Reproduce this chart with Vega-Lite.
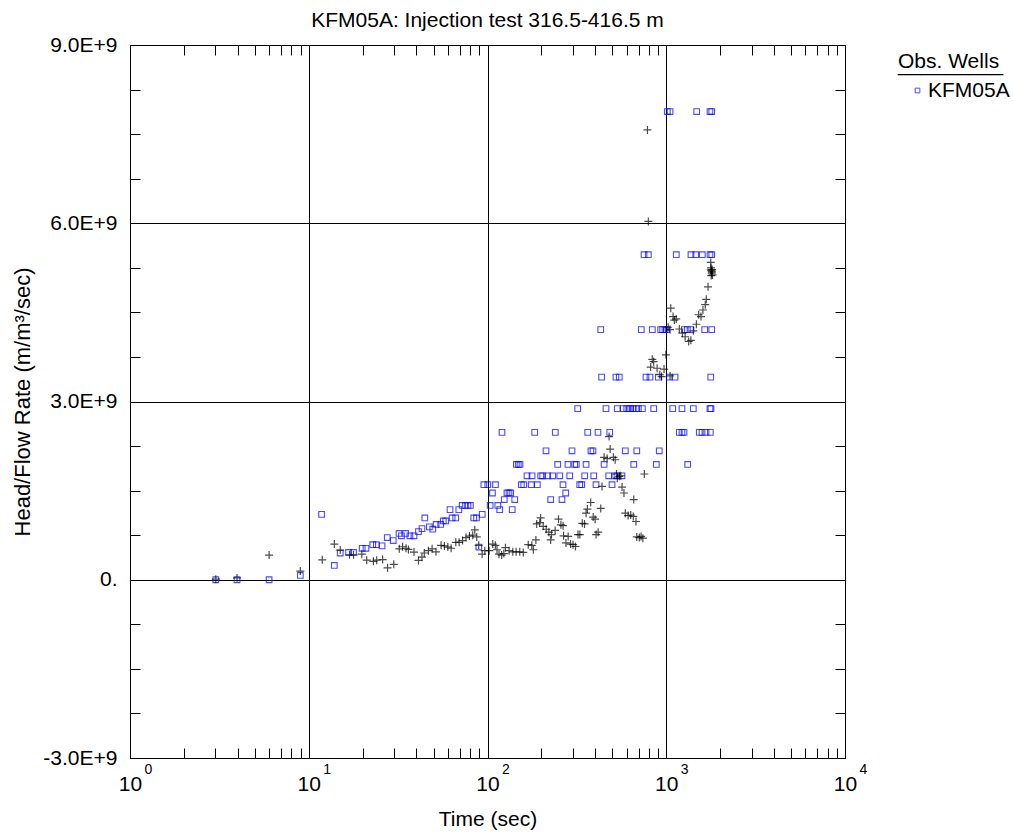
{
  "$schema": "https://vega.github.io/schema/vega-lite/v6.json",
  "width": 715,
  "height": 713,
  "autosize": "none",
  "padding": {"left": 130, "top": 45, "right": 168, "bottom": 75},
  "background": "white",
  "title": {"text": "KFM05A: Injection test 316.5-416.5 m", "fontSize": 21, "fontWeight": "normal", "font": "Liberation Sans", "color": "black", "offset": 3},
  "config": {
    "font": "Liberation Sans",
    "view": {"stroke": "black", "strokeWidth": 1},
    "axis": {"labelColor": "black", "titleColor": "black", "labelFont": "Liberation Sans", "titleFont": "Liberation Sans", "titleFontWeight": "normal", "domainColor": "black", "tickColor": "black", "gridColor": "black", "gridOpacity": 1, "gridWidth": 1}
  },
  "data": {"values": [
    {"t": 3.02, "v": 0, "s": "KFM05A"}, {"t": 3.97, "v": 0, "s": "KFM05A"}, {"t": 6.0, "v": 0, "s": "KFM05A"}, {"t": 8.97, "v": 0.072e9, "s": "KFM05A"},
    {"t": 11.8, "v": 1.10e9, "s": "KFM05A"}, {"t": 13.9, "v": 0.24e9, "s": "KFM05A"}, {"t": 15.0, "v": 0.45e9, "s": "KFM05A"}, {"t": 16.7, "v": 0.46e9, "s": "KFM05A"}, {"t": 17.8, "v": 0.46e9, "s": "KFM05A"},
    {"t": 19.9, "v": 0.53e9, "s": "KFM05A"}, {"t": 20.9, "v": 0.53e9, "s": "KFM05A"}, {"t": 22.8, "v": 0.59e9, "s": "KFM05A"}, {"t": 23.9, "v": 0.59e9, "s": "KFM05A"}, {"t": 25.7, "v": 0.57e9, "s": "KFM05A"},
    {"t": 27.5, "v": 0.71e9, "s": "KFM05A"}, {"t": 29.7, "v": 0.66e9, "s": "KFM05A"}, {"t": 32.0, "v": 0.78e9, "s": "KFM05A"}, {"t": 33.0, "v": 0.74e9, "s": "KFM05A"}, {"t": 34.8, "v": 0.78e9, "s": "KFM05A"},
    {"t": 36.8, "v": 0.74e9, "s": "KFM05A"}, {"t": 38.8, "v": 0.74e9, "s": "KFM05A"}, {"t": 41.1, "v": 0.81e9, "s": "KFM05A"}, {"t": 43.0, "v": 0.86e9, "s": "KFM05A"}, {"t": 44.6, "v": 1.04e9, "s": "KFM05A"},
    {"t": 47.3, "v": 0.89e9, "s": "KFM05A"}, {"t": 49.4, "v": 0.85e9, "s": "KFM05A"}, {"t": 51.6, "v": 0.93e9, "s": "KFM05A"}, {"t": 54.7, "v": 0.93e9, "s": "KFM05A"}, {"t": 56.6, "v": 0.99e9, "s": "KFM05A"},
    {"t": 58.4, "v": 0.99e9, "s": "KFM05A"}, {"t": 61.7, "v": 1.18e9, "s": "KFM05A"}, {"t": 63.4, "v": 1.04e9, "s": "KFM05A"}, {"t": 66.4, "v": 1.04e9, "s": "KFM05A"}, {"t": 69.1, "v": 1.18e9, "s": "KFM05A"},
    {"t": 72.2, "v": 1.25e9, "s": "KFM05A"}, {"t": 75.3, "v": 1.25e9, "s": "KFM05A"}, {"t": 77.7, "v": 1.25e9, "s": "KFM05A"}, {"t": 80.2, "v": 1.25e9, "s": "KFM05A"}, {"t": 83.8, "v": 1.04e9, "s": "KFM05A"},
    {"t": 86.8, "v": 1.04e9, "s": "KFM05A"}, {"t": 89.4, "v": 0.55e9, "s": "KFM05A"}, {"t": 93.4, "v": 1.10e9, "s": "KFM05A"},
    {"t": 103.5, "v": 1.25e9, "s": "KFM05A"}, {"t": 114.2, "v": 1.25e9, "s": "KFM05A"}, {"t": 117, "v": 1.18e9, "s": "KFM05A"}, {"t": 137.5, "v": 1.18e9, "s": "KFM05A"},
    {"t": 124.1, "v": 1.35e9, "s": "KFM05A"}, {"t": 142, "v": 1.35e9, "s": "KFM05A"}, {"t": 225.7, "v": 1.35e9, "s": "KFM05A"}, {"t": 261, "v": 1.35e9, "s": "KFM05A"},
    {"t": 106.6, "v": 1.46e9, "s": "KFM05A"}, {"t": 128.5, "v": 1.46e9, "s": "KFM05A"}, {"t": 131.9, "v": 1.46e9, "s": "KFM05A"}, {"t": 134.8, "v": 1.46e9, "s": "KFM05A"}, {"t": 273.8, "v": 1.46e9, "s": "KFM05A"},
    {"t": 95.4, "v": 1.60e9, "s": "KFM05A"}, {"t": 100.4, "v": 1.60e9, "s": "KFM05A"}, {"t": 110.8, "v": 1.60e9, "s": "KFM05A"}, {"t": 154.6, "v": 1.60e9, "s": "KFM05A"}, {"t": 159.5, "v": 1.60e9, "s": "KFM05A"},
    {"t": 175.8, "v": 1.60e9, "s": "KFM05A"}, {"t": 190, "v": 1.60e9, "s": "KFM05A"}, {"t": 264.5, "v": 1.60e9, "s": "KFM05A"}, {"t": 328, "v": 1.60e9, "s": "KFM05A"}, {"t": 336.6, "v": 1.60e9, "s": "KFM05A"},
    {"t": 404.7, "v": 1.60e9, "s": "KFM05A"}, {"t": 497.4, "v": 1.60e9, "s": "KFM05A"},
    {"t": 166.3, "v": 1.75e9, "s": "KFM05A"}, {"t": 177.5, "v": 1.75e9, "s": "KFM05A"}, {"t": 198.5, "v": 1.75e9, "s": "KFM05A"}, {"t": 203.6, "v": 1.75e9, "s": "KFM05A"}, {"t": 217, "v": 1.75e9, "s": "KFM05A"},
    {"t": 231.5, "v": 1.75e9, "s": "KFM05A"}, {"t": 253.6, "v": 1.75e9, "s": "KFM05A"}, {"t": 288.4, "v": 1.75e9, "s": "KFM05A"}, {"t": 349.8, "v": 1.75e9, "s": "KFM05A"}, {"t": 392.9, "v": 1.75e9, "s": "KFM05A"},
    {"t": 476.6, "v": 1.75e9, "s": "KFM05A"}, {"t": 515, "v": 1.75e9, "s": "KFM05A"}, {"t": 530, "v": 1.75e9, "s": "KFM05A"}, {"t": 565.5, "v": 1.75e9, "s": "KFM05A"},
    {"t": 145, "v": 1.94e9, "s": "KFM05A"}, {"t": 148.7, "v": 1.94e9, "s": "KFM05A"}, {"t": 152, "v": 1.94e9, "s": "KFM05A"}, {"t": 247, "v": 1.94e9, "s": "KFM05A"}, {"t": 282, "v": 1.94e9, "s": "KFM05A"},
    {"t": 307.5, "v": 1.94e9, "s": "KFM05A"}, {"t": 314, "v": 1.94e9, "s": "KFM05A"}, {"t": 356, "v": 1.94e9, "s": "KFM05A"}, {"t": 449, "v": 1.94e9, "s": "KFM05A"}, {"t": 658, "v": 1.94e9, "s": "KFM05A"},
    {"t": 880, "v": 1.94e9, "s": "KFM05A"}, {"t": 1318, "v": 1.94e9, "s": "KFM05A"},
    {"t": 212.5, "v": 2.17e9, "s": "KFM05A"}, {"t": 297, "v": 2.17e9, "s": "KFM05A"}, {"t": 379, "v": 2.17e9, "s": "KFM05A"}, {"t": 389, "v": 2.17e9, "s": "KFM05A"}, {"t": 590, "v": 2.17e9, "s": "KFM05A"},
    {"t": 684, "v": 2.17e9, "s": "KFM05A"}, {"t": 914, "v": 2.17e9, "s": "KFM05A"},
    {"t": 120.5, "v": 2.48e9, "s": "KFM05A"}, {"t": 183.7, "v": 2.48e9, "s": "KFM05A"}, {"t": 239.5, "v": 2.48e9, "s": "KFM05A"}, {"t": 363.6, "v": 2.48e9, "s": "KFM05A"}, {"t": 415, "v": 2.48e9, "s": "KFM05A"},
    {"t": 483, "v": 2.48e9, "s": "KFM05A"}, {"t": 1183, "v": 2.48e9, "s": "KFM05A"}, {"t": 1225, "v": 2.48e9, "s": "KFM05A"}, {"t": 1257, "v": 2.48e9, "s": "KFM05A"}, {"t": 1531, "v": 2.48e9, "s": "KFM05A"},
    {"t": 1585, "v": 2.48e9, "s": "KFM05A"}, {"t": 1668, "v": 2.48e9, "s": "KFM05A"}, {"t": 1764, "v": 2.48e9, "s": "KFM05A"},
    {"t": 319.6, "v": 2.88e9, "s": "KFM05A"}, {"t": 460, "v": 2.88e9, "s": "KFM05A"}, {"t": 532, "v": 2.88e9, "s": "KFM05A"}, {"t": 575, "v": 2.88e9, "s": "KFM05A"}, {"t": 601, "v": 2.88e9, "s": "KFM05A"},
    {"t": 619, "v": 2.88e9, "s": "KFM05A"}, {"t": 633, "v": 2.88e9, "s": "KFM05A"}, {"t": 654, "v": 2.88e9, "s": "KFM05A"}, {"t": 677, "v": 2.88e9, "s": "KFM05A"}, {"t": 698, "v": 2.88e9, "s": "KFM05A"},
    {"t": 735, "v": 2.88e9, "s": "KFM05A"}, {"t": 851, "v": 2.88e9, "s": "KFM05A"}, {"t": 1087, "v": 2.88e9, "s": "KFM05A"}, {"t": 1225, "v": 2.88e9, "s": "KFM05A"}, {"t": 1417, "v": 2.88e9, "s": "KFM05A"},
    {"t": 1756, "v": 2.88e9, "s": "KFM05A"}, {"t": 1779, "v": 2.88e9, "s": "KFM05A"},
    {"t": 435, "v": 3.41e9, "s": "KFM05A"}, {"t": 523, "v": 3.41e9, "s": "KFM05A"}, {"t": 546, "v": 3.41e9, "s": "KFM05A"}, {"t": 770, "v": 3.41e9, "s": "KFM05A"}, {"t": 811, "v": 3.41e9, "s": "KFM05A"},
    {"t": 903, "v": 3.41e9, "s": "KFM05A"}, {"t": 1041, "v": 3.41e9, "s": "KFM05A"}, {"t": 1120, "v": 3.41e9, "s": "KFM05A"}, {"t": 1774, "v": 3.41e9, "s": "KFM05A"},
    {"t": 430, "v": 4.21e9, "s": "KFM05A"}, {"t": 725, "v": 4.21e9, "s": "KFM05A"}, {"t": 836, "v": 4.21e9, "s": "KFM05A"}, {"t": 931, "v": 4.21e9, "s": "KFM05A"}, {"t": 955, "v": 4.21e9, "s": "KFM05A"},
    {"t": 984, "v": 4.21e9, "s": "KFM05A"}, {"t": 1006, "v": 4.21e9, "s": "KFM05A"}, {"t": 1262, "v": 4.21e9, "s": "KFM05A"}, {"t": 1312, "v": 4.21e9, "s": "KFM05A"}, {"t": 1375, "v": 4.21e9, "s": "KFM05A"},
    {"t": 1641, "v": 4.21e9, "s": "KFM05A"}, {"t": 1796, "v": 4.21e9, "s": "KFM05A"},
    {"t": 751, "v": 5.47e9, "s": "KFM05A"}, {"t": 794, "v": 5.47e9, "s": "KFM05A"}, {"t": 1138, "v": 5.47e9, "s": "KFM05A"}, {"t": 1375, "v": 5.47e9, "s": "KFM05A"}, {"t": 1462, "v": 5.47e9, "s": "KFM05A"},
    {"t": 1591, "v": 5.47e9, "s": "KFM05A"}, {"t": 1757, "v": 5.47e9, "s": "KFM05A"}, {"t": 1796, "v": 5.47e9, "s": "KFM05A"},
    {"t": 1014, "v": 7.88e9, "s": "KFM05A"}, {"t": 1050, "v": 7.88e9, "s": "KFM05A"}, {"t": 1480, "v": 7.88e9, "s": "KFM05A"}, {"t": 1757, "v": 7.88e9, "s": "KFM05A"}, {"t": 1796, "v": 7.88e9, "s": "KFM05A"},

    {"t": 3.02, "v": 0.01e9, "s": "calc"}, {"t": 3.97, "v": 0.03e9, "s": "calc"}, {"t": 6.0, "v": 0.415e9, "s": "calc"}, {"t": 8.97, "v": 0.146e9, "s": "calc"}, {"t": 11.9, "v": 0.336e9, "s": "calc"},
    {"t": 13.9, "v": 0.60e9, "s": "calc"}, {"t": 15.0, "v": 0.50e9, "s": "calc"}, {"t": 16.9, "v": 0.42e9, "s": "calc"}, {"t": 17.8, "v": 0.42e9, "s": "calc"}, {"t": 19.8, "v": 0.43e9, "s": "calc"},
    {"t": 21.1, "v": 0.33e9, "s": "calc"}, {"t": 23.0, "v": 0.31e9, "s": "calc"}, {"t": 24.0, "v": 0.33e9, "s": "calc"}, {"t": 25.9, "v": 0.34e9, "s": "calc"}, {"t": 27.6, "v": 0.20e9, "s": "calc"},
    {"t": 29.9, "v": 0.26e9, "s": "calc"}, {"t": 32.1, "v": 0.52e9, "s": "calc"}, {"t": 33.5, "v": 0.555e9, "s": "calc"}, {"t": 35.0, "v": 0.53e9, "s": "calc"}, {"t": 36.1, "v": 0.51e9, "s": "calc"},
    {"t": 38.8, "v": 0.466e9, "s": "calc"}, {"t": 41.1, "v": 0.325e9, "s": "calc"}, {"t": 43.0, "v": 0.38e9, "s": "calc"}, {"t": 44.3, "v": 0.45e9, "s": "calc"}, {"t": 46.7, "v": 0.49e9, "s": "calc"},
    {"t": 49.0, "v": 0.52e9, "s": "calc"}, {"t": 51.5, "v": 0.47e9, "s": "calc"}, {"t": 55.0, "v": 0.58e9, "s": "calc"}, {"t": 57.4, "v": 0.57e9, "s": "calc"}, {"t": 60.0, "v": 0.55e9, "s": "calc"},
    {"t": 62.6, "v": 0.53e9, "s": "calc"}, {"t": 66.5, "v": 0.63e9, "s": "calc"}, {"t": 69.4, "v": 0.63e9, "s": "calc"}, {"t": 72.5, "v": 0.66e9, "s": "calc"}, {"t": 75.8, "v": 0.71e9, "s": "calc"},
    {"t": 79.2, "v": 0.735e9, "s": "calc"}, {"t": 82.7, "v": 0.75e9, "s": "calc"}, {"t": 84.9, "v": 0.84e9, "s": "calc"}, {"t": 87.1, "v": 0.72e9, "s": "calc"}, {"t": 89.3, "v": 0.58e9, "s": "calc"},
    {"t": 93.3, "v": 0.43e9, "s": "calc"}, {"t": 96.6, "v": 0.49e9, "s": "calc"}, {"t": 102.2, "v": 0.49e9, "s": "calc"}, {"t": 107, "v": 0.60e9, "s": "calc"}, {"t": 110.6, "v": 0.58e9, "s": "calc"},
    {"t": 113, "v": 0.505e9, "s": "calc"}, {"t": 116, "v": 0.43e9, "s": "calc"}, {"t": 120, "v": 0.415e9, "s": "calc"}, {"t": 123.4, "v": 0.44e9, "s": "calc"}, {"t": 126, "v": 0.54e9, "s": "calc"},
    {"t": 132, "v": 0.49e9, "s": "calc"}, {"t": 138.5, "v": 0.47e9, "s": "calc"}, {"t": 144.5, "v": 0.47e9, "s": "calc"}, {"t": 151.5, "v": 0.47e9, "s": "calc"}, {"t": 158.5, "v": 0.46e9, "s": "calc"},
    {"t": 169, "v": 0.59e9, "s": "calc"}, {"t": 177, "v": 0.58e9, "s": "calc"}, {"t": 180.5, "v": 0.505e9, "s": "calc"}, {"t": 186.5, "v": 0.67e9, "s": "calc"}, {"t": 188.5, "v": 0.94e9, "s": "calc"},
    {"t": 196, "v": 0.96e9, "s": "calc"}, {"t": 198.3, "v": 1.04e9, "s": "calc"}, {"t": 205, "v": 0.90e9, "s": "calc"}, {"t": 213, "v": 0.85e9, "s": "calc"}, {"t": 220.6, "v": 0.80e9, "s": "calc"},
    {"t": 228, "v": 0.76e9, "s": "calc"}, {"t": 225.6, "v": 0.67e9, "s": "calc"}, {"t": 239, "v": 0.83e9, "s": "calc"}, {"t": 249.6, "v": 1.02e9, "s": "calc"}, {"t": 257.4, "v": 0.925e9, "s": "calc"},
    {"t": 264.7, "v": 0.91e9, "s": "calc"}, {"t": 266.5, "v": 0.74e9, "s": "calc"}, {"t": 274.7, "v": 0.62e9, "s": "calc"}, {"t": 282.7, "v": 0.73e9, "s": "calc"}, {"t": 291.5, "v": 0.60e9, "s": "calc"},
    {"t": 301, "v": 0.59e9, "s": "calc"}, {"t": 310.6, "v": 0.56e9, "s": "calc"}, {"t": 321, "v": 0.76e9, "s": "calc"}, {"t": 328.5, "v": 0.76e9, "s": "calc"}, {"t": 339, "v": 0.95e9, "s": "calc"},
    {"t": 349, "v": 0.94e9, "s": "calc"}, {"t": 356, "v": 1.12e9, "s": "calc"}, {"t": 362, "v": 1.19e9, "s": "calc"}, {"t": 378, "v": 1.30e9, "s": "calc"}, {"t": 390, "v": 1.055e9, "s": "calc"},
    {"t": 400, "v": 1.02e9, "s": "calc"}, {"t": 405, "v": 0.76e9, "s": "calc"}, {"t": 416, "v": 0.80e9, "s": "calc"}, {"t": 430, "v": 1.20e9, "s": "calc"}, {"t": 437, "v": 1.57e9, "s": "calc"},
    {"t": 449, "v": 2.06e9, "s": "calc"}, {"t": 467, "v": 2.04e9, "s": "calc"}, {"t": 506, "v": 2.06e9, "s": "calc"}, {"t": 518, "v": 2.02e9, "s": "calc"}, {"t": 479, "v": 2.41e9, "s": "calc"},
    {"t": 485.5, "v": 2.20e9, "s": "calc"}, {"t": 527, "v": 1.78e9, "s": "calc"}, {"t": 532, "v": 1.71e9, "s": "calc"}, {"t": 546, "v": 1.74e9, "s": "calc"}, {"t": 557, "v": 1.75e9, "s": "calc"},
    {"t": 566, "v": 1.56e9, "s": "calc"}, {"t": 580, "v": 1.46e9, "s": "calc"}, {"t": 658, "v": 1.35e9, "s": "calc"}, {"t": 590, "v": 1.12e9, "s": "calc"}, {"t": 612, "v": 1.08e9, "s": "calc"},
    {"t": 633, "v": 1.09e9, "s": "calc"}, {"t": 654, "v": 1.065e9, "s": "calc"}, {"t": 677, "v": 0.98e9, "s": "calc"}, {"t": 684, "v": 0.72e9, "s": "calc"}, {"t": 707, "v": 0.71e9, "s": "calc"},
    {"t": 723, "v": 0.73e9, "s": "calc"}, {"t": 740, "v": 0.70e9, "s": "calc"}, {"t": 754, "v": 1.78e9, "s": "calc"},
    {"t": 785, "v": 7.57e9, "s": "calc"}, {"t": 794, "v": 6.03e9, "s": "calc"}, {"t": 996, "v": 3.785e9, "s": "calc"}, {"t": 835, "v": 3.71e9, "s": "calc"}, {"t": 850, "v": 3.67e9, "s": "calc"},
    {"t": 818, "v": 3.58e9, "s": "calc"}, {"t": 889, "v": 3.56e9, "s": "calc"}, {"t": 972, "v": 3.545e9, "s": "calc"}, {"t": 920, "v": 3.45e9, "s": "calc"}, {"t": 942, "v": 3.42e9, "s": "calc"},
    {"t": 1050, "v": 3.43e9, "s": "calc"}, {"t": 1025, "v": 4.25e9, "s": "calc"}, {"t": 1050, "v": 4.21e9, "s": "calc"}, {"t": 1060, "v": 4.57e9, "s": "calc"}, {"t": 1092, "v": 4.43e9, "s": "calc"},
    {"t": 1110, "v": 4.37e9, "s": "calc"}, {"t": 1137, "v": 4.39e9, "s": "calc"}, {"t": 1183, "v": 4.22e9, "s": "calc"}, {"t": 1232, "v": 4.15e9, "s": "calc"}, {"t": 1275, "v": 4.09e9, "s": "calc"},
    {"t": 1335, "v": 4.01e9, "s": "calc"}, {"t": 1373, "v": 4.03e9, "s": "calc"}, {"t": 1417, "v": 4.19e9, "s": "calc"}, {"t": 1474, "v": 4.30e9, "s": "calc"}, {"t": 1518, "v": 4.46e9, "s": "calc"},
    {"t": 1564, "v": 4.43e9, "s": "calc"}, {"t": 1604, "v": 4.54e9, "s": "calc"}, {"t": 1653, "v": 4.63e9, "s": "calc"}, {"t": 1674, "v": 4.72e9, "s": "calc"}, {"t": 1713, "v": 4.93e9, "s": "calc"},
    {"t": 1774, "v": 5.34e9, "s": "calc"}, {"t": 1774, "v": 5.215e9, "s": "calc"}, {"t": 1796, "v": 5.16e9, "s": "calc"}, {"t": 1815, "v": 5.13e9, "s": "calc"}, {"t": 1780, "v": 5.25e9, "s": "calc"},
    {"t": 1790, "v": 5.20e9, "s": "calc"}, {"t": 1800, "v": 5.18e9, "s": "calc"}, {"t": 1785, "v": 5.12e9, "s": "calc"}, {"t": 1805, "v": 5.22e9, "s": "calc"}
  ]},
  "resolve": {"axis": {"x": "independent", "y": "independent"}},
  "layer": [
    {
      "transform": [{"filter": "datum.s == 'KFM05A'"}],
      "mark": {"type": "point", "shape": "square", "filled": false, "size": 32, "strokeWidth": 1.1},
      "encoding": {
        "x": {"field": "t", "type": "quantitative", "scale": {"type": "log", "domain": [1, 10000], "nice": false},
          "axis": {"orient": "bottom", "values": [1, 10, 100, 1000, 10000], "labelExpr": "'10'", "grid": true, "ticks": false, "domain": false, "labelFontSize": 21, "labelPadding": 15, "labelFlush": false, "title": "Time (sec)", "titleFontSize": 21, "titlePadding": 14}},
        "y": {"field": "v", "type": "quantitative", "scale": {"domain": [-3e9, 9e9], "nice": false, "zero": false},
          "axis": {"orient": "left", "values": [-3e9, 0, 3e9, 6e9, 9e9], "labelExpr": "datum.value == 0 ? '0.' : (datum.value < 0 ? '-' : '') + format(abs(datum.value) / 1e9, '.1f') + 'E+9'", "grid": true, "ticks": false, "domain": false, "labelFontSize": 21, "labelPadding": 13, "labelFlush": false, "title": "Head/Flow Rate (m/m³/sec)", "titleFontSize": 22, "titlePadding": 8}},
        "color": {"field": "s", "type": "nominal", "scale": {"domain": ["KFM05A"], "range": ["#0000ff"]},
          "legend": {"title": ["Obs. Wells", "_________"], "titleLineHeight": 3, "orient": "none", "legendX": 768, "legendY": 5.5, "titleFontSize": 21, "titleFontWeight": "normal", "titleColor": "black", "labelFontSize": 21, "labelColor": "black", "symbolType": "square", "symbolSize": 22, "symbolStrokeWidth": 1, "symbolOffset": 9, "titlePadding": 5.5, "labelOffset": 0}}
      }
    },
    {
      "transform": [{"filter": "datum.s == 'calc'"}],
      "mark": {"type": "point", "shape": "M-1,0H1M0,-1V1", "filled": false, "size": 64, "strokeWidth": 1.2, "color": "black"},
      "encoding": {
        "x": {"field": "t", "type": "quantitative", "scale": {"type": "log", "domain": [1, 10000], "nice": false},
          "axis": {"orient": "bottom", "values": [1, 10, 100, 1000, 10000], "labelExpr": "'' + round(log(datum.value) / LN10)", "grid": false, "ticks": false, "domain": false, "labelFontSize": 14, "labelPadding": 4, "labelOffset": 18, "labelFlush": false, "title": null}},
        "y": {"field": "v", "type": "quantitative", "scale": {"domain": [-3e9, 9e9], "nice": false, "zero": false},
          "axis": {"orient": "left", "values": [-2.25e9, -1.5e9, -0.75e9, 0.75e9, 1.5e9, 2.25e9, 3.75e9, 4.5e9, 5.25e9, 6.75e9, 7.5e9, 8.25e9], "labels": false, "ticks": true, "tickSize": -10, "domain": false, "grid": false, "title": null}}
      }
    },
    {
      "transform": [{"filter": "datum.s == 'calc'"}],
      "mark": {"type": "point", "opacity": 0},
      "encoding": {
        "x": {"field": "t", "type": "quantitative", "scale": {"type": "log", "domain": [1, 10000], "nice": false},
          "axis": {"orient": "bottom", "values": [2, 3, 4, 5, 6, 7, 8, 9, 20, 30, 40, 50, 60, 70, 80, 90, 200, 300, 400, 500, 600, 700, 800, 900, 2000, 3000, 4000, 5000, 6000, 7000, 8000, 9000], "labels": false, "ticks": true, "tickSize": -10, "domain": false, "grid": false, "title": null}},
        "y": {"field": "v", "type": "quantitative", "scale": {"domain": [-3e9, 9e9], "nice": false, "zero": false},
          "axis": {"orient": "right", "values": [-2.25e9, -1.5e9, -0.75e9, 0.75e9, 1.5e9, 2.25e9, 3.75e9, 4.5e9, 5.25e9, 6.75e9, 7.5e9, 8.25e9], "labels": false, "ticks": true, "tickSize": -10, "domain": false, "grid": false, "title": null}}
      }
    },
    {
      "transform": [{"filter": "datum.s == 'calc'"}],
      "mark": {"type": "point", "opacity": 0},
      "encoding": {
        "x": {"field": "t", "type": "quantitative", "scale": {"type": "log", "domain": [1, 10000], "nice": false},
          "axis": {"orient": "top", "values": [2, 3, 4, 5, 6, 7, 8, 9, 20, 30, 40, 50, 60, 70, 80, 90, 200, 300, 400, 500, 600, 700, 800, 900, 2000, 3000, 4000, 5000, 6000, 7000, 8000, 9000], "labels": false, "ticks": true, "tickSize": -10, "domain": false, "grid": false, "title": null}},
        "y": {"field": "v", "type": "quantitative", "scale": {"domain": [-3e9, 9e9], "nice": false, "zero": false}, "axis": null}
      }
    }
  ]
}
